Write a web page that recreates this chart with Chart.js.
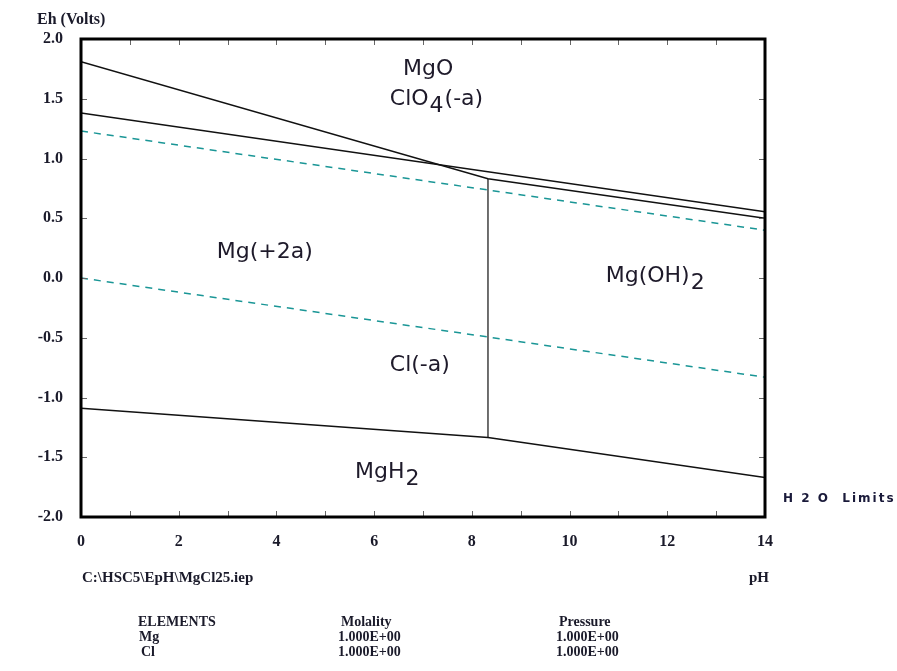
<!DOCTYPE html>
<html>
<head>
<meta charset="utf-8">
<script src="https://cdn.jsdelivr.net/npm/chart.js@4.4.0/dist/chart.umd.min.js"></script>
<style>
  html, body { margin: 0; padding: 0; background: #fff; }
  #wrap { width: 897px; height: 671px; position: relative; }
</style>
</head>
<body>
<div id="wrap"><canvas id="grafico"></canvas></div>
<script>
// ==============================
// DADOS
// ==============================
const phTicks = [0, 2, 4, 6, 8, 10, 12, 14];
const ehTicks = [2.0, 1.5, 1.0, 0.5, 0.0, -0.5, -1.0, -1.5, -2.0];

// MgO / Mg(+2a) / Mg(OH)2 limite superior
const phLinhaA = [0, 8.33, 14];
const ehLinhaA = [1.81, 0.83, 0.50];

// ClO4(-a) / Cl(-a)
const phLinhaB = [0, 14];
const ehLinhaB = [1.38, 0.555];

// MgH2 limite
const phLinhaC = [0, 8.33, 14];
const ehLinhaC = [-1.09, -1.335, -1.67];

// Mg(+2a) / Mg(OH)2 vertical
const phVertical = [8.33, 8.33];
const ehVertical = [0.83, -1.335];

// limites da água (tracejado)
const phAgua = [0, 14];
const ehAguaO2 = [1.23, 0.40];
const ehAguaH2 = [0.0, -0.83];

// rótulos das regiões [texto, subscrito, resto, pH, Eh]
const rotulos = [
  ["MgO", "", "", 6.59, 1.70],
  ["ClO", "4", "(-a)", 6.32, 1.45],
  ["Mg(+2a)", "", "", 2.78, 0.17],
  ["Mg(OH)", "2", "", 10.74, -0.03],
  ["Cl(-a)", "", "", 6.32, -0.78],
  ["MgH", "2", "", 5.61, -1.67]
];

const tabelaElementos = ["Mg", "Cl"];
const tabelaMolalidade = ["1.000E+00", "1.000E+00"];
const tabelaPressao = ["1.000E+00", "1.000E+00"];

function pontos(xs, ys) {
  return xs.map((x, i) => ({ x: x, y: ys[i] }));
}

const PRETO = "#111";
const TEAL = "#1a9696";

function linha(xs, ys, cor, largura, tracejado) {
  return {
    data: pontos(xs, ys),
    showLine: true,
    borderColor: cor,
    borderWidth: largura,
    borderDash: tracejado || [],
    pointRadius: 0,
    fill: false,
    tension: 0
  };
}

// ==============================
// PLUGIN - MOLDURA E TEXTOS
// ==============================
const molduraPlugin = {
  id: "moldura",
  afterDraw(chart) {
    const ctx = chart.ctx;
    const a = chart.chartArea;
    const sx = chart.scales.x;
    const sy = chart.scales.y;
    ctx.save();

    // ticks para dentro
    ctx.strokeStyle = "#666";
    ctx.lineWidth = 1;
    ctx.beginPath();
    for (let v = 1; v < 14; v++) {
      const px = Math.round(sx.getPixelForValue(v)) + 0.5;
      ctx.moveTo(px, a.top); ctx.lineTo(px, a.top + 6);
      ctx.moveTo(px, a.bottom); ctx.lineTo(px, a.bottom - 6);
    }
    for (let v = -1.5; v < 2; v += 0.5) {
      const py = Math.round(sy.getPixelForValue(v)) + 0.5;
      ctx.moveTo(a.left, py); ctx.lineTo(a.left + 6, py);
      ctx.moveTo(a.right, py); ctx.lineTo(a.right - 6, py);
    }
    ctx.stroke();

    // moldura
    ctx.strokeStyle = "#000";
    ctx.lineWidth = 3;
    ctx.strokeRect(a.left, a.top, a.right - a.left, a.bottom - a.top);

    // rótulos das regiões
    ctx.fillStyle = "#1e1a2a";
    ctx.font = "22px 'DejaVu Sans'";
    ctx.textBaseline = "alphabetic";
    ctx.textAlign = "left";
    rotulos.forEach(r => {
      let x = sx.getPixelForValue(r[3]);
      const y = sy.getPixelForValue(r[4]);
      ctx.fillText(r[0], x, y);
      x += ctx.measureText(r[0]).width + 1;
      if (r[1]) {
        ctx.fillText(r[1], x, y + 7);
        x += ctx.measureText(r[1]).width + 1;
      }
      if (r[2]) ctx.fillText(r[2], x, y);
    });

    // textos fixos
    ctx.fillStyle = "#1a1a2a";
    ctx.font = "bold 16px 'Liberation Serif'";
    ctx.fillText("Eh (Volts)", 37, 24);
    ctx.font = "bold 15px 'Liberation Serif'";
    ctx.fillText("C:\\HSC5\\EpH\\MgCl25.iep", 82, 582);
    ctx.fillText("pH", 749, 582);

    ctx.font = "bold 14px 'Liberation Serif'";
    ctx.fillText("ELEMENTS", 138, 626);
    ctx.fillText("Molality", 341, 626);
    ctx.fillText("Pressure", 559, 626);
    tabelaElementos.forEach((el, i) => {
      const y = 641 + i * 15;
      ctx.fillText(el, 139 + (i ? 2 : 0), y);
      ctx.fillText(tabelaMolalidade[i], 338, y);
      ctx.fillText(tabelaPressao[i], 556, y);
    });

    ctx.font = "bold 12px 'DejaVu Sans'";
    ctx.letterSpacing = "2px";
    ctx.fillStyle = "#1a1a3a";
    ctx.fillText("H 2 O  Limits", 783, 502);
    ctx.letterSpacing = "0px";

    ctx.restore();
  }
};

// ==============================
// GRÁFICO
// ==============================
new Chart(document.getElementById("grafico"), {
  type: "scatter",
  data: {
    datasets: [
      linha(phAgua, ehAguaO2, TEAL, 1.5, [7, 6]),
      linha(phAgua, ehAguaH2, TEAL, 1.5, [7, 6]),
      linha(phLinhaA, ehLinhaA, PRETO, 1.5),
      linha(phLinhaB, ehLinhaB, PRETO, 1.5),
      linha(phLinhaC, ehLinhaC, PRETO, 1.5),
      linha(phVertical, ehVertical, PRETO, 1.2)
    ]
  },
  options: {
    responsive: true,
    maintainAspectRatio: false,
    animation: false,
    layout: { padding: { left: 0, top: 39, right: 132, bottom: 110 } },
    plugins: { legend: { display: false }, tooltip: { enabled: false } },
    scales: {
      x: {
        type: "linear",
        min: 0,
        max: 14,
        afterFit(s) { s.height = 44; },
        afterBuildTicks(s) { s.ticks = phTicks.map(v => ({ value: v })); },
        grid: { display: false },
        border: { display: false },
        ticks: {
          padding: 7,
          color: "#1a1a2a",
          font: { family: "Liberation Serif", size: 16, weight: "bold" },
          autoSkip: false,
          maxRotation: 0
        }
      },
      y: {
        type: "linear",
        min: -2,
        max: 2,
        afterFit(s) { s.width = 81; },
        afterBuildTicks(s) { s.ticks = ehTicks.map(v => ({ value: v })); },
        grid: { display: false },
        border: { display: false },
        ticks: {
          padding: 10,
          color: "#1a1a2a",
          font: { family: "Liberation Serif", size: 16, weight: "bold" },
          callback: v => v.toFixed(1)
        }
      }
    }
  },
  plugins: [molduraPlugin]
});
</script>
</body>
</html>
